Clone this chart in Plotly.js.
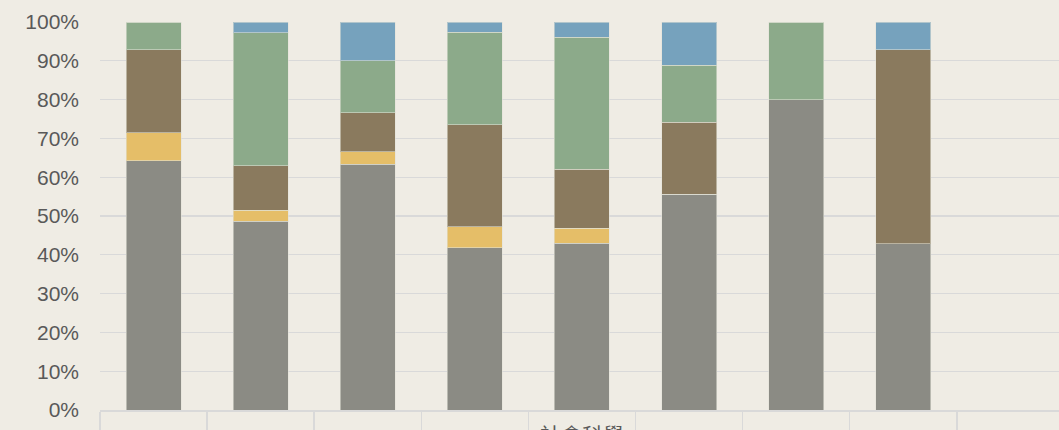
<!DOCTYPE html>
<html>
<head>
<meta charset="utf-8">
<script src="https://cdn.plot.ly/plotly-3.0.1.min.js"></script>
<style>html,body{margin:0;padding:0;background:#efece4;}#chart{width:1059px;height:430px;}</style>
</head>
<body>
<div id="chart"></div>
<script>
// Category positions (8 bars), only one tick label visible in the reference
const categoryIndex = [0, 1, 2, 3, 4, 5, 6, 7];
const visibleLabel = "社會科學";
const visibleLabelIndex = 4;

// Shares per bar (fractions of 100%), bottom to top
const seriesGrey  = [0.643, 0.486, 0.633, 0.418, 0.430, 0.556, 0.800, 0.429];
const seriesGold  = [0.071, 0.029, 0.033, 0.054, 0.039, 0.000, 0.000, 0.000];
const seriesBrown = [0.215, 0.114, 0.100, 0.263, 0.151, 0.185, 0.000, 0.500];
const seriesGreen = [0.071, 0.343, 0.134, 0.238, 0.341, 0.148, 0.200, 0.000];
const seriesBlue  = [0.000, 0.028, 0.100, 0.027, 0.039, 0.111, 0.000, 0.071];

const seriesNames = ["系列1", "系列2", "系列3", "系列4", "系列5"];
const seriesColors = ["#8b8b84", "#e5be68", "#8a7a5e", "#8caa8a", "#76a2bd"];
const seriesValues = [seriesGrey, seriesGold, seriesBrown, seriesGreen, seriesBlue];

const yTickVals = [0, 0.1, 0.2, 0.3, 0.4, 0.5, 0.6, 0.7, 0.8, 0.9, 1.0];
const boundaryTicks = [-0.5, 0.5, 1.5, 2.5, 3.5, 4.5, 5.5, 6.5, 7.5, 8.5];

const traces = seriesValues.map((vals, i) => ({
  type: 'bar',
  name: seriesNames[i],
  x: categoryIndex,
  y: vals,
  marker: {color: seriesColors[i], line: {color: 'rgba(225,225,215,0.55)', width: 1}},
  hoverinfo: 'name+y'
}));

const layout = {
  width: 1059,
  height: 430,
  margin: {l: 100, r: 0, t: 22, b: 20, pad: 0},
  paper_bgcolor: '#efece4',
  plot_bgcolor: '#efece4',
  barmode: 'stack',
  bargap: 0.486,
  showlegend: false,
  xaxis: {
    type: 'linear',
    range: [-0.5, 8.454],
    tickmode: 'array',
    tickvals: boundaryTicks,
    showticklabels: false,
    ticks: 'outside',
    ticklen: 20,
    tickwidth: 1.5,
    tickcolor: '#d9d9d9',
    showgrid: false,
    zeroline: false,
    showline: true,
    linecolor: '#d9d9d9',
    linewidth: 1.5,
    fixedrange: true
  },
  yaxis: {
    range: [0, 1],
    tickmode: 'array',
    tickvals: yTickVals,
    tickformat: '.0%',
    showgrid: true,
    gridcolor: '#d9d9d9',
    gridwidth: 1.3,
    zeroline: false,
    showline: false,
    ticks: '',
    ticklabelstandoff: 20,
    tickfont: {family: 'Liberation Sans, Arial, sans-serif', size: 21, color: '#595959'},
    fixedrange: true
  },
  annotations: [{
    x: visibleLabelIndex, xref: 'x',
    y: 0, yref: 'paper',
    yanchor: 'top', xanchor: 'center',
    yshift: -7,
    text: visibleLabel,
    showarrow: false,
    font: {family: 'Noto Sans CJK TC, sans-serif', size: 21, color: '#595959'}
  }]
};

Plotly.newPlot('chart', traces, layout, {displayModeBar: false, staticPlot: true});
</script>
</body>
</html>
